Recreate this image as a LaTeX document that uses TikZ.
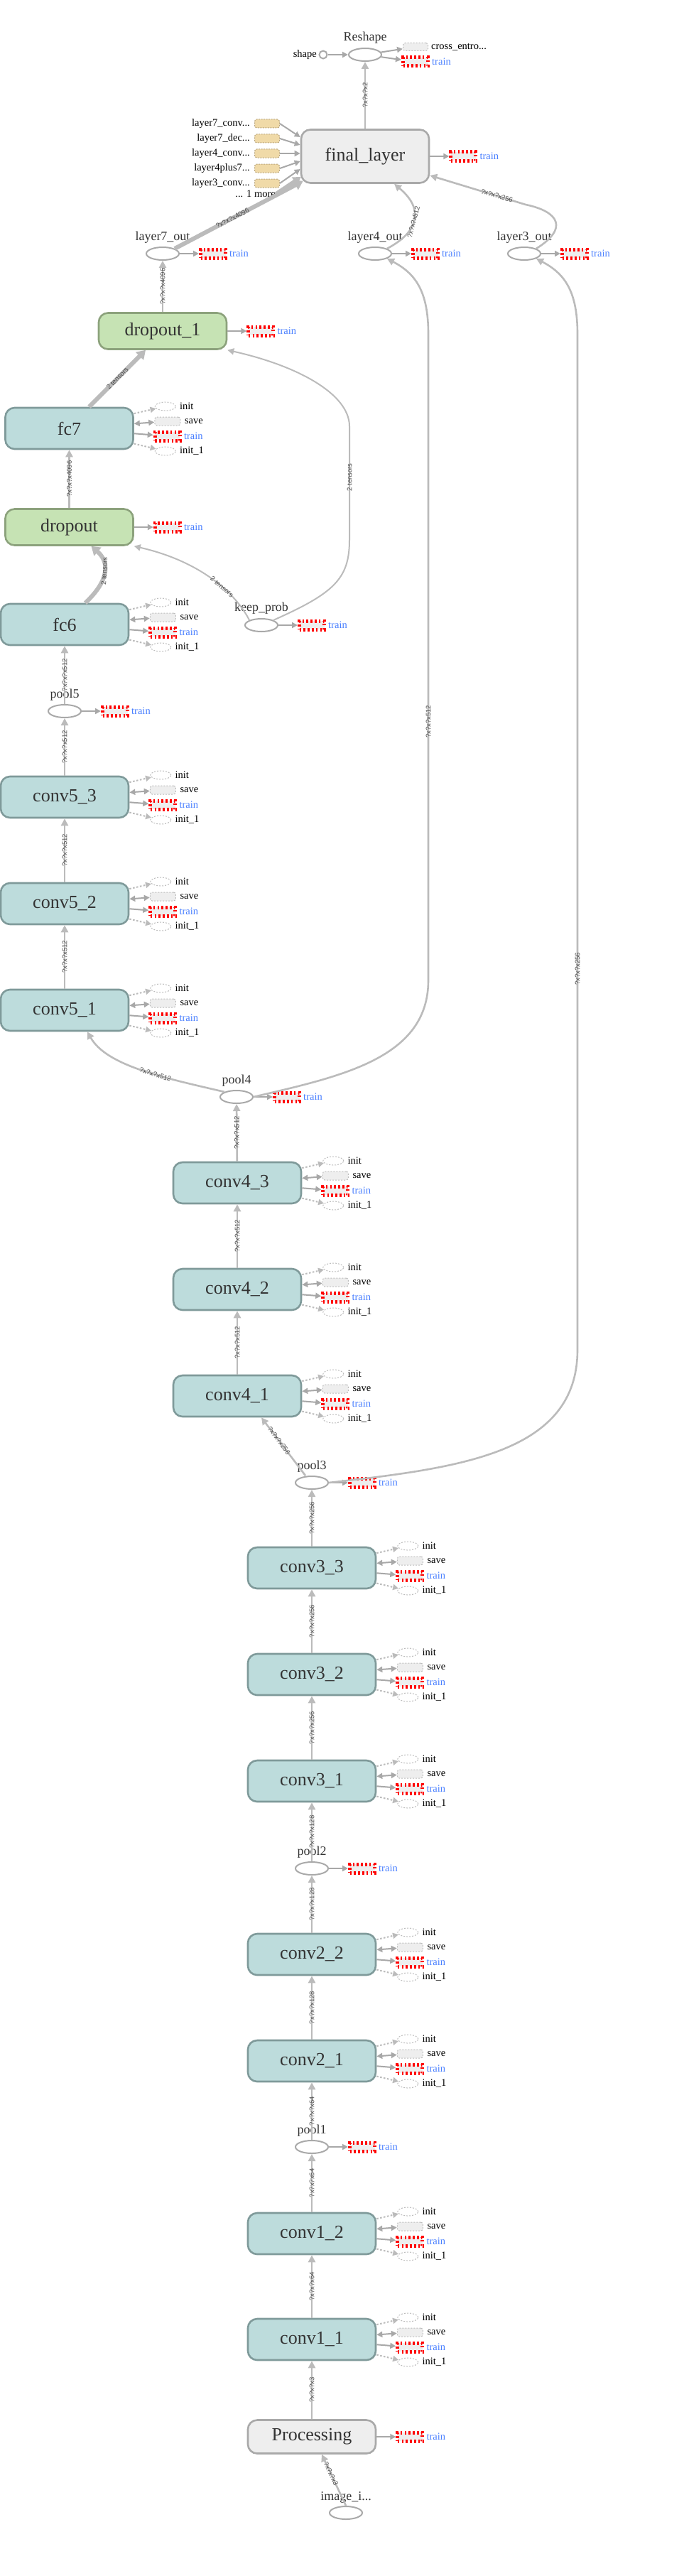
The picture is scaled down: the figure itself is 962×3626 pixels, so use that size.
\documentclass[tikz,border=0pt]{standalone}
\usepackage{fontspec}
\setmainfont{Liberation Serif}
\newfontfamily\edgefont{Liberation Sans}
\usetikzlibrary{shapes.geometric,arrows.meta,calc}
\definecolor{convF}{HTML}{BDDCDC}
\definecolor{convB}{HTML}{7F9A9A}
\definecolor{grnF}{HTML}{C6E3B4}
\definecolor{grnB}{HTML}{8CA27C}
\definecolor{gryF}{HTML}{EEEEEE}
\definecolor{gryB}{HTML}{A9A9A9}
\definecolor{edgeC}{HTML}{BBBBBB}
\definecolor{sideC}{HTML}{A8A8A8}
\definecolor{txtC}{HTML}{333333}
\definecolor{trainBlue}{HTML}{4A80FF}
\definecolor{tanF}{HTML}{F0DAA8}
\definecolor{tanB}{HTML}{B9A57C}
\definecolor{lblC}{HTML}{4A4A4A}
\tikzset{
 bigbox/.style={rectangle, rounded corners=13pt, line width=2.6pt, minimum width=180pt, minimum height=58pt, inner sep=0pt, font=\fontsize{26}{26}\selectfont, text=txtC},
 convbox/.style={bigbox, draw=convB, fill=convF},
 grnbox/.style={bigbox, draw=grnB, fill=grnF, minimum height=51pt},
 grybox/.style={bigbox, draw=gryB, fill=gryF},
 opnode/.style={ellipse, draw=gryB, line width=2pt, minimum width=46pt, minimum height=18pt, inner sep=0pt},
 oplbl/.style={font=\fontsize{18}{18}\selectfont, text=txtC, inner sep=0pt},
 smlbl/.style={font=\fontsize{14.5}{14.5}\selectfont, inner sep=0pt, anchor=west},
 trainbox/.style={rectangle, fill=gryF, draw=red, line width=5pt, dash pattern=on 2.6pt off 3.2pt, minimum width=35pt, minimum height=12pt, inner sep=0pt},
 initnode/.style={ellipse, draw=edgeC, dash pattern=on 2pt off 2pt, line width=1pt, minimum width=29pt, minimum height=12pt, inner sep=0pt},
 savebox/.style={rectangle, rounded corners=3pt, draw=edgeC, dash pattern=on 2pt off 2pt, line width=1pt, fill=gryF, minimum width=36pt, minimum height=12pt, inner sep=0pt},
 tanbox/.style={rectangle, rounded corners=3pt, draw=tanB, dash pattern=on 2pt off 1.5pt, line width=1pt, fill=tanF, minimum width=35pt, minimum height=12pt, inner sep=0pt},
 arr/.style={draw=edgeC, line width=2.6pt, -{Triangle[length=10pt,width=10pt]}},
 tarr/.style={draw=edgeC, line width=2pt, -{Triangle[length=9pt,width=9pt]}},
 thickarr/.style={draw=edgeC, line width=6pt, -{Triangle[length=12pt,width=15pt]}},
 sarr/.style={draw=sideC, line width=2pt, -{Triangle[length=8pt,width=8pt]}},
 dotarr/.style={draw=edgeC, line width=2pt, dash pattern=on 2.5pt off 2.5pt, -{Triangle[length=8pt,width=8pt]}},
 dblarr/.style={draw=sideC, line width=2pt, {Triangle[length=8pt,width=8pt]}-{Triangle[length=8pt,width=8pt]}},
 elbl/.style={font=\edgefont\fontsize{9.5}{9.5}\selectfont, text=lblC, inner sep=0.5pt},
}
\newcommand\sidegrp[1]{%
 \node[initnode] (#1-i) at ($(#1.east)+(44,-31)$) {};
 \node[smlbl] (#1-il) at ($(#1.east)+(64,-31)$) {init};
 \node[savebox] (#1-s) at ($(#1.east)+(47,-10)$) {};
 \node[smlbl] (#1-sl) at ($(#1.east)+(71,-10)$) {save};
 \node[trainbox] (#1-t) at ($(#1.east)+(47,11)$) {};
 \node[smlbl, text=trainBlue] (#1-tl) at ($(#1.east)+(70,11)$) {train};
 \node[initnode] (#1-j) at ($(#1.east)+(44,32)$) {};
 \node[smlbl] (#1-jl) at ($(#1.east)+(64,32)$) {init\_1};
 \draw[dotarr] (#1) -- (#1-i);
 \draw[dblarr] (#1) -- (#1-s);
 \draw[sarr] (#1) -- (#1-t);
 \draw[dotarr] (#1) -- (#1-j);
}
\newcommand\trainonly[1]{%
 \node[trainbox] (#1-t) at ($(#1.east)+(47,0)$) {};
 \node[smlbl, text=trainBlue] (#1-tl) at ($(#1.east)+(70,0)$) {train};
 \draw[sarr] (#1) -- (#1-t);
}
\begin{document}
\begin{tikzpicture}[x=1pt, y=-1pt]
\useasboundingbox (0,0) rectangle (962,3626);
% ---------- top ----------
\node[opnode] (reshape) at (514,77) {};
\node[oplbl] (reshapel) at (514,53) {Reshape};
\node[circle, draw=gryB, line width=2pt, minimum size=11pt, inner sep=0pt] (shape) at (455,77) {};
\node[smlbl, anchor=east] (shapel) at (446,77) {shape};
\node[savebox, minimum width=35pt, minimum height=11pt] (ce) at (585,66) {};
\node[smlbl] (cel) at (607,66) {cross\_entro...};
\node[trainbox] (rtr) at (585,87) {};
\node[smlbl, text=trainBlue] (rtrl) at (608,87) {train};
\draw[sarr] (shape) -- (reshape);
\draw[sarr] (reshape) -- (ce);
\draw[sarr] (reshape) -- (rtr);
\node[grybox, minimum height=75pt] (final) at (514,220) {final\_layer};
\trainonly{final}
\draw[arr] (final) -- (reshape) node[elbl, midway, rotate=90] {?x?x?x2};
% inputs of final_layer
\node[tanbox] (tan1) at (376,174) {};
\node[smlbl, anchor=east] (tan1l) at (352,174) {layer7\_conv...};
\node[tanbox] (tan2) at (376,195) {};
\node[smlbl, anchor=east] (tan2l) at (352,195) {layer7\_dec...};
\node[tanbox] (tan3) at (376,216) {};
\node[smlbl, anchor=east] (tan3l) at (352,216) {layer4\_conv...};
\node[tanbox] (tan4) at (376,237) {};
\node[smlbl, anchor=east] (tan4l) at (352,237) {layer4plus7...};
\node[tanbox] (tan5) at (376,258) {};
\node[smlbl, anchor=east] (tan5l) at (352,258) {layer3\_conv...};
\node[smlbl, anchor=east] (more) at (388,273) {... 1 more};
\draw[sarr] (tan1.east) -- ([yshift=27pt]final.west);
\draw[sarr] (tan2.east) -- ([yshift=16pt]final.west);
\draw[sarr] (tan3.east) -- ([yshift=4pt]final.west);
\draw[sarr] (tan4.east) -- ([yshift=-7pt]final.west);
\draw[sarr] (tan5.east) -- ([yshift=-18pt]final.west);
\draw[draw=edgeC, line width=5pt, -{Triangle[length=11pt,width=13pt]}] (more.east) -- ([yshift=-29pt,xshift=1pt]final.west);
% ---------- outputs ----------
\node[opnode] (l7) at (229,357) {};
\node[oplbl] (l7l) at (229,334) {layer7\_out};
\trainonly{l7}
\node[opnode] (l4) at (528,357) {};
\node[oplbl] (l4l) at (528,334) {layer4\_out};
\trainonly{l4}
\node[opnode] (l3) at (738,357) {};
\node[oplbl] (l3l) at (738,334) {layer3\_out};
\trainonly{l3}
\draw[thickarr] (l7.north east) -- ([xshift=4pt,yshift=4pt]final.south west) node[elbl, sloped, pos=0.45] {?x?x?x4096};
\draw[arr] (l4.north east) .. controls (592,325) and (596,293) .. ([xshift=41pt]final.south) node[elbl, sloped, pos=0.45] {?x?x?x512};
\draw[arr] (l3.north east) .. controls (800,322) and (788,298) .. (740,288) -- ([yshift=-27pt]final.east) node[elbl, sloped, pos=0.3] {?x?x?x256};
% ---------- dropout / fc ----------
\node[grnbox] (do1) at (229,466) {dropout\_1};
\trainonly{do1}
\draw[arr] (do1) -- (l7) node[elbl, midway, rotate=90] {?x?x?x4096};
\node[convbox] (fc7) at (97.5,603) {fc7};
\sidegrp{fc7}
\draw[thickarr] ([xshift=28pt]fc7.north) -- ([xshift=-24pt]do1.south) node[elbl, sloped, midway] {2 tensors};
\node[grnbox] (do) at (97.5,742) {dropout};
\trainonly{do}
\draw[arr] (do) -- (fc7) node[elbl, midway, rotate=90] {?x?x?x4096};
\node[convbox] (fc6) at (91,879) {fc6};
\sidegrp{fc6}
\draw[thickarr] ([xshift=29pt]fc6.north) .. controls (156,815) and (153,790) .. ([xshift=31pt]do.south) node[elbl, sloped, pos=0.5] {2 tensors};
\node[opnode] (kp) at (368,880) {};
\node[oplbl] (kpl) at (368,856) {keep\_prob};
\trainonly{kp}
\draw[tarr] (kp.north west) .. controls (332,835) and (282,790) .. (do.south east) node[elbl, sloped, pos=0.4] {2 tensors};
\draw[tarr] (kp.north east) .. controls (470,835) and (492,815) .. (492,760) -- (492,600) node[elbl, pos=0.55, rotate=90] {2 tensors} .. controls (492,555) and (420,515) .. (do1.south east);
% ---------- conv5 ----------
\node[opnode] (p5) at (91,1001) {};
\node[oplbl] (p5l) at (91,978) {pool5};
\trainonly{p5}
\draw[arr] (p5) -- (fc6) node[elbl, midway, rotate=90] {?x?x?x512};
\node[convbox] (c53) at (91,1122) {conv5\_3};
\sidegrp{c53}
\draw[arr] (c53) -- (p5) node[elbl, midway, rotate=90] {?x?x?x512};
\node[convbox] (c52) at (91,1272) {conv5\_2};
\sidegrp{c52}
\draw[arr] (c52) -- (c53) node[elbl, midway, rotate=90] {?x?x?x512};
\node[convbox] (c51) at (91,1422) {conv5\_1};
\sidegrp{c51}
\draw[arr] (c51) -- (c52) node[elbl, midway, rotate=90] {?x?x?x512};
% ---------- pool4 / conv4 ----------
\node[opnode] (p4) at (333,1544) {};
\node[oplbl] (p4l) at (333,1521) {pool4};
\trainonly{p4}
\draw[arr] (p4.north west) .. controls (230,1517) and (150,1500) .. ([xshift=32pt]c51.south) node[elbl, sloped, pos=0.4] {?x?x?x512};
\draw[arr] (p4.east) .. controls (480,1515) and (603,1490) .. (603,1380) -- (603,470) node[elbl, pos=0.4, rotate=90] {?x?x?x512} .. controls (603,410) and (585,385) .. (l4.south east);
\node[convbox] (c43) at (334,1665) {conv4\_3};
\sidegrp{c43}
\draw[arr] (c43) -- (p4) node[elbl, midway, rotate=90] {?x?x?x512};
\node[convbox] (c42) at (334,1815) {conv4\_2};
\sidegrp{c42}
\draw[arr] (c42) -- (c43) node[elbl, midway, rotate=90] {?x?x?x512};
\node[convbox] (c41) at (334,1965) {conv4\_1};
\sidegrp{c41}
\draw[arr] (c41) -- (c42) node[elbl, midway, rotate=90] {?x?x?x512};
% ---------- pool3 / conv3 ----------
\node[opnode] (p3) at (439,2087) {};
\node[oplbl] (p3l) at (439,2064) {pool3};
\trainonly{p3}
\draw[arr] ([xshift=-9pt]p3.north) -- ([xshift=34pt]c41.south) node[elbl, sloped, pos=0.6] {?x?x?x256};
\draw[arr] (p3.east) .. controls (650,2066) and (813,2045) .. (813,1900) -- (813,470) node[elbl, pos=0.375, rotate=90] {?x?x?x256} .. controls (813,410) and (795,385) .. (l3.south east);
\node[convbox] (c33) at (439,2207) {conv3\_3};
\sidegrp{c33}
\draw[arr] (c33) -- (p3) node[elbl, midway, rotate=90] {?x?x?x256};
\node[convbox] (c32) at (439,2357) {conv3\_2};
\sidegrp{c32}
\draw[arr] (c32) -- (c33) node[elbl, midway, rotate=90] {?x?x?x256};
\node[convbox] (c31) at (439,2507) {conv3\_1};
\sidegrp{c31}
\draw[arr] (c31) -- (c32) node[elbl, midway, rotate=90] {?x?x?x256};
% ---------- pool2 / conv2 ----------
\node[opnode] (p2) at (439,2630) {};
\node[oplbl] (p2l) at (439,2607) {pool2};
\trainonly{p2}
\draw[arr] (p2) -- (c31) node[elbl, midway, rotate=90] {?x?x?x128};
\node[convbox] (c22) at (439,2751) {conv2\_2};
\sidegrp{c22}
\draw[arr] (c22) -- (p2) node[elbl, midway, rotate=90] {?x?x?x128};
\node[convbox] (c21) at (439,2901) {conv2\_1};
\sidegrp{c21}
\draw[arr] (c21) -- (c22) node[elbl, midway, rotate=90] {?x?x?x128};
% ---------- pool1 / conv1 ----------
\node[opnode] (p1) at (439,3022) {};
\node[oplbl] (p1l) at (439,2999) {pool1};
\trainonly{p1}
\draw[arr] (p1) -- (c21) node[elbl, midway, rotate=90] {?x?x?x64};
\node[convbox] (c12) at (439,3144) {conv1\_2};
\sidegrp{c12}
\draw[arr] (c12) -- (p1) node[elbl, midway, rotate=90] {?x?x?x64};
\node[convbox] (c11) at (439,3293) {conv1\_1};
\sidegrp{c11}
\draw[arr] (c11) -- (c12) node[elbl, midway, rotate=90] {?x?x?x64};
% ---------- input ----------
\node[grybox, minimum height=47pt] (proc) at (439,3430) {Processing};
\trainonly{proc}
\draw[arr] (proc) -- (c11) node[elbl, midway, rotate=90] {?x?x?x3};
\node[opnode] (img) at (487,3537) {};
\node[oplbl] (imgl) at (487,3515) {image\_i...};
\draw[arr] (img.north) -- ([xshift=14pt]proc.south) node[elbl, sloped, pos=0.62] {?x?x?x3};
\end{tikzpicture}
\end{document}
